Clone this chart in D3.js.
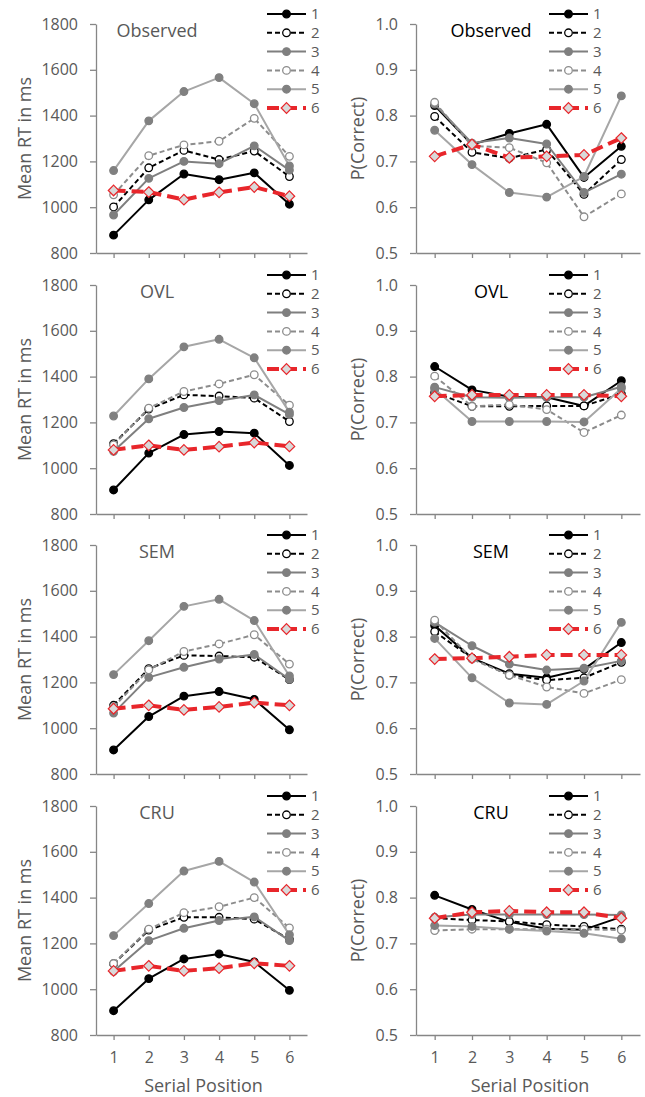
<!DOCTYPE html>
<html lang="en">
<head>
<meta charset="UTF-8" />
<title>Serial position panels</title>
<script src="https://d3js.org/d3.v7.min.js"></script>
<style>
  body { margin: 0; background: #fff; }
  text { font-family: "Open Sans", "DejaVu Sans", sans-serif; }
  .tick-label { font-size: 16px; fill: #595959; }
  .axis-label { font-size: 18px; fill: #595959; }
  .legend text { font-size: 15px; fill: #595959; }
</style>
</head>
<body>
<div id="chart"></div>
<script>
// x categories
const positions = [1, 2, 3, 4, 5, 6];
const seriesNames = ["1", "2", "3", "4", "5", "6"];
const rtTicks = [800, 1000, 1200, 1400, 1600, 1800];
const pTicks = [0.5, 0.6, 0.7, 0.8, 0.9, 1.0];
const modelNames = ["Observed", "OVL", "SEM", "CRU"];

// Mean RT, one row per series 1..6
const observedRT = [
  [878, 1032, 1145, 1120, 1150, 1013],
  [1001, 1172, 1248, 1208, 1245, 1134],
  [966, 1126, 1200, 1190, 1268, 1162],
  [1054, 1225, 1272, 1288, 1388, 1222],
  [1160, 1377, 1505, 1566, 1452, 1180],
  [1073, 1066, 1033, 1065, 1088, 1048]
];
const ovlRT = [
  [905, 1066, 1147, 1160, 1153, 1012],
  [1107, 1258, 1320, 1315, 1306, 1204],
  [1074, 1216, 1265, 1295, 1320, 1235],
  [1102, 1262, 1335, 1368, 1408, 1275],
  [1228, 1390, 1530, 1563, 1482, 1245],
  [1080, 1100, 1080, 1094, 1112, 1095]
];
const semRT = [
  [905, 1051, 1140, 1160, 1126, 993],
  [1100, 1260, 1318, 1315, 1310, 1212],
  [1066, 1222, 1266, 1302, 1322, 1213],
  [1092, 1255, 1335, 1368, 1408, 1280],
  [1234, 1382, 1532, 1563, 1470, 1228],
  [1085, 1100, 1080, 1093, 1112, 1100]
];
const cruRT = [
  [906, 1046, 1132, 1154, 1119, 995],
  [1111, 1258, 1314, 1314, 1306, 1217],
  [1078, 1212, 1266, 1300, 1316, 1212],
  [1112, 1262, 1334, 1360, 1400, 1268],
  [1234, 1374, 1516, 1558, 1468, 1238],
  [1080, 1102, 1080, 1092, 1113, 1102]
];

// P(Correct), one row per series 1..6
const observedP = [
  [0.822, 0.737, 0.761, 0.781, 0.665, 0.733],
  [0.798, 0.720, 0.707, 0.726, 0.628, 0.704],
  [0.825, 0.740, 0.751, 0.738, 0.632, 0.672],
  [0.829, 0.734, 0.730, 0.697, 0.579, 0.629],
  [0.768, 0.693, 0.632, 0.622, 0.667, 0.843],
  [0.711, 0.737, 0.708, 0.711, 0.714, 0.751]
];
const ovlP = [
  [0.822, 0.771, 0.756, 0.755, 0.736, 0.791],
  [0.765, 0.735, 0.735, 0.736, 0.736, 0.762],
  [0.777, 0.755, 0.754, 0.755, 0.755, 0.778],
  [0.801, 0.735, 0.739, 0.728, 0.678, 0.716],
  [0.773, 0.702, 0.702, 0.702, 0.701, 0.774],
  [0.757, 0.760, 0.760, 0.760, 0.760, 0.757]
];
const semP = [
  [0.824, 0.753, 0.719, 0.710, 0.729, 0.787],
  [0.811, 0.753, 0.716, 0.705, 0.710, 0.744],
  [0.831, 0.780, 0.740, 0.727, 0.731, 0.747],
  [0.836, 0.751, 0.716, 0.690, 0.676, 0.706],
  [0.796, 0.710, 0.655, 0.652, 0.703, 0.831],
  [0.751, 0.753, 0.756, 0.760, 0.760, 0.760]
];
const cruP = [
  [0.805, 0.774, 0.747, 0.732, 0.730, 0.758],
  [0.755, 0.751, 0.748, 0.741, 0.737, 0.731],
  [0.757, 0.763, 0.763, 0.763, 0.763, 0.762],
  [0.728, 0.731, 0.731, 0.731, 0.731, 0.729],
  [0.739, 0.737, 0.731, 0.727, 0.722, 0.710],
  [0.755, 0.768, 0.771, 0.768, 0.768, 0.755]
];

const rtData = [observedRT, ovlRT, semRT, cruRT];
const pData = [observedP, ovlP, semP, cruP];

// line / marker looks for series 1..6
const styles = [
  { stroke: "#000000", width: 2, dash: null, mark: "circle", fill: "#000000", mstroke: "#000000" },
  { stroke: "#000000", width: 2, dash: "5,3", mark: "circle", fill: "#ffffff", mstroke: "#000000" },
  { stroke: "#7f7f7f", width: 2, dash: null, mark: "circle", fill: "#7f7f7f", mstroke: "#7f7f7f" },
  { stroke: "#8c8c8c", width: 2, dash: "5,3", mark: "circle", fill: "#ffffff", mstroke: "#8c8c8c" },
  { stroke: "#a6a6a6", width: 2, dash: null, mark: "circle", fill: "#808080", mstroke: "#808080" },
  { stroke: "#e8262b", width: 4, dash: "12,6", mark: "diamond", fill: "#d9d9d9", mstroke: "#e8262b" }
];

const W = 645, H = 1097;
const rowTops = [24, 285, 545, 806];
const plotH = 229;
const axisColor = "#868686";

const svg = d3.select("#chart").append("svg")
  .attr("width", W).attr("height", H);

function diamondPath(h) {
  return `M0,${-h}L${h},0L0,${h}L${-h},0Z`;
}

function drawMarker(g, st, cx, cy) {
  if (st.mark === "diamond") {
    g.append("path")
      .attr("d", diamondPath(5.3))
      .attr("transform", `translate(${cx},${cy})`)
      .attr("fill", st.fill)
      .attr("stroke", st.mstroke)
      .attr("stroke-width", 1.2);
  } else {
    g.append("circle")
      .attr("cx", cx).attr("cy", cy).attr("r", 3.8)
      .attr("fill", st.fill)
      .attr("stroke", st.mstroke)
      .attr("stroke-width", 1.3);
  }
}

function drawPanel(opts) {
  const { x0, x1, top, domain, ticks, fmt, data, title, titleColor, titleX, yLabel, yLabelX, showX, legendX } = opts;
  const g = svg.append("g");
  const bottom = top + plotH;

  const x = d3.scalePoint().domain(positions).range([x0, x1]).padding(0.5);
  const y = d3.scaleLinear().domain(domain).range([bottom, top]);

  // y axis
  const ya = g.append("g")
    .attr("transform", `translate(${x0},0)`)
    .call(d3.axisLeft(y).tickValues(ticks).tickFormat(fmt).tickSize(6).tickPadding(12).tickSizeOuter(0));
  ya.select(".domain").attr("stroke", axisColor).attr("stroke-width", 1.3);
  ya.selectAll(".tick line").attr("stroke", axisColor).attr("stroke-width", 1.3);
  ya.selectAll(".tick text").attr("class", "tick-label").attr("font-size", null).attr("font-family", null);

  // x axis
  const xa = g.append("g")
    .attr("transform", `translate(0,${bottom})`)
    .call(d3.axisBottom(x).tickSize(5).tickPadding(12).tickSizeOuter(0));
  xa.select(".domain").attr("stroke", axisColor).attr("stroke-width", 1.3);
  xa.selectAll(".tick line").attr("stroke", axisColor).attr("stroke-width", 1.3);
  xa.selectAll(".tick text").attr("class", "tick-label").attr("font-size", null).attr("font-family", null);
  if (!showX) xa.selectAll(".tick text").remove();

  // y label
  g.append("text")
    .attr("class", "axis-label")
    .attr("transform", `translate(${yLabelX},${(top + bottom) / 2}) rotate(-90)`)
    .attr("text-anchor", "middle")
    .text(yLabel);

  if (showX) {
    g.append("text")
      .attr("class", "axis-label")
      .attr("x", (x0 + x1) / 2 + 2)
      .attr("y", bottom + 57)
      .attr("text-anchor", "middle")
      .text("Serial Position");
  }

  // title
  g.append("text")
    .attr("x", titleX)
    .attr("y", top + 12.5)
    .attr("text-anchor", "middle")
    .attr("font-size", 18)
    .attr("fill", titleColor)
    .text(title);

  // series
  const line = d3.line().x((d, i) => x(positions[i])).y(d => y(d));
  data.forEach((vals, s) => {
    const st = styles[s];
    g.append("path")
      .attr("d", line(vals))
      .attr("fill", "none")
      .attr("stroke", st.stroke)
      .attr("stroke-width", st.width)
      .attr("stroke-dasharray", st.dash)
      .attr("stroke-linejoin", "round");
    vals.forEach((v, i) => drawMarker(g, st, x(positions[i]), y(v)));
  });

  // legend
  const lg = g.append("g").attr("class", "legend");
  seriesNames.forEach((name, s) => {
    const st = styles[s];
    const ly = top - 10 + s * 18.8;
    lg.append("line")
      .attr("x1", legendX).attr("x2", legendX + 39)
      .attr("y1", ly).attr("y2", ly)
      .attr("stroke", st.stroke)
      .attr("stroke-width", st.width)
      .attr("stroke-dasharray", st.dash);
    drawMarker(lg, st, legendX + 19.5, ly);
    lg.append("text")
      .attr("x", legendX + 44)
      .attr("y", ly)
      .attr("dy", "0.35em")
      .text(name);
  });
}

modelNames.forEach((name, r) => {
  const top = rowTops[r];
  const showX = r === modelNames.length - 1;
  drawPanel({
    x0: 96, x1: 307, top,
    domain: [800, 1800], ticks: rtTicks, fmt: d3.format("d"),
    data: rtData[r], title: name, titleColor: "#595959", titleX: 157,
    yLabel: "Mean RT in ms", yLabelX: 31, showX, legendX: 267
  });
  drawPanel({
    x0: 416, x1: 640, top,
    domain: [0.5, 1.0], ticks: pTicks, fmt: d3.format(".1f"),
    data: pData[r], title: name, titleColor: "#000000", titleX: 491,
    yLabel: "P(Correct)", yLabelX: 364, showX, legendX: 549
  });
});
</script>
</body>
</html>
